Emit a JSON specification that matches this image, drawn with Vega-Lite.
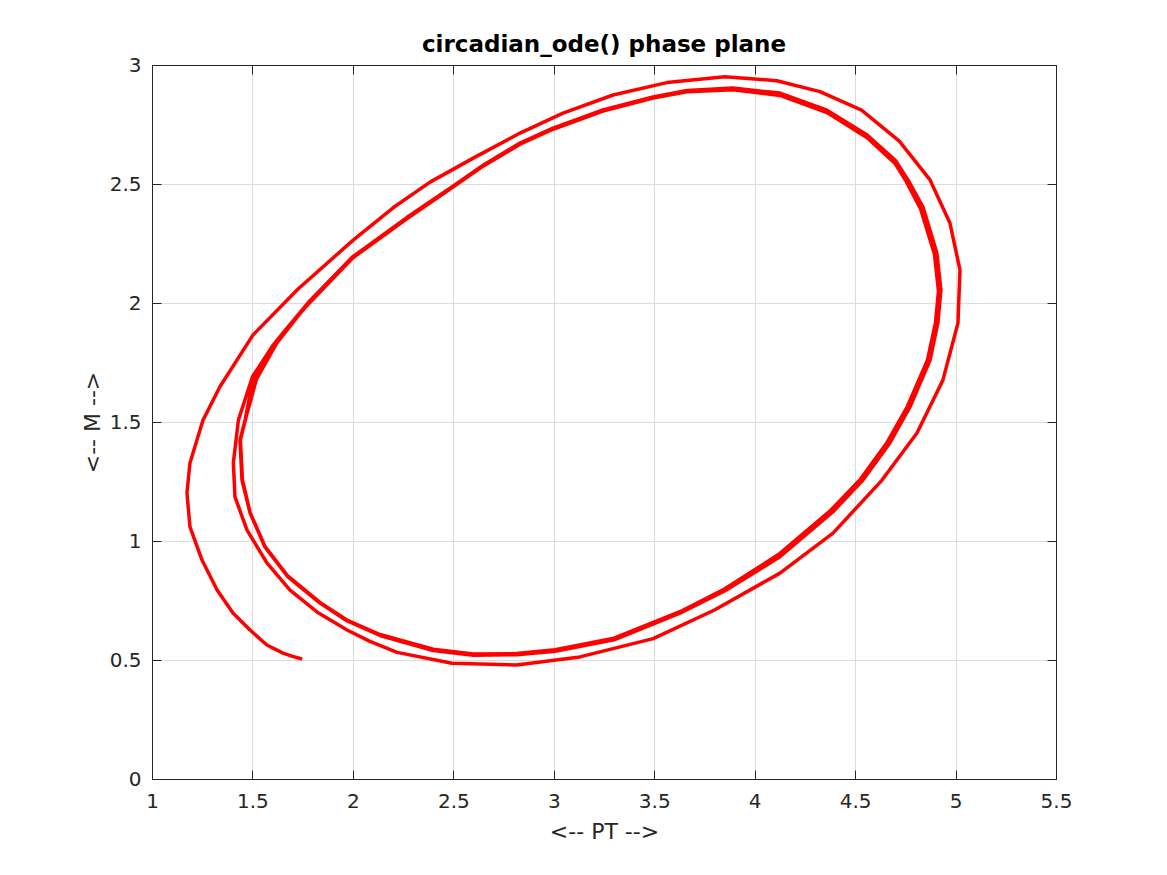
{
  "$schema": "https://vega.github.io/schema/vega-lite/v6.json",
  "autosize": "none",
  "width": 904,
  "height": 714,
  "padding": {"left": 152, "top": 65, "right": 111, "bottom": 96},
  "background": "white",
  "title": {"text": "circadian_ode() phase plane", "font": "DejaVu Sans", "fontSize": 23, "fontWeight": "bold", "color": "#000000", "offset": -20, "baseline": "alphabetic", "anchor": "middle"},
  "config": {
    "font": "DejaVu Sans",
    "view": {"stroke": "#262626", "strokeWidth": 1},
    "axis": {"domainColor": "#262626", "tickColor": "#262626", "labelColor": "#262626", "titleColor": "#262626", "labelFont": "DejaVu Sans", "titleFont": "DejaVu Sans", "labelFontSize": 20, "titleFontSize": 22, "titleFontWeight": "normal", "gridColor": "#dcdcdc", "gridWidth": 1, "tickSize": -9, "domainWidth": 1, "labelFlush": false, "labelOverlap": false}
  },
  "data": {"values": [
    {"t":1,"PT":1.747,"M":0.504},{"t":2,"PT":1.70,"M":0.515},{"t":3,"PT":1.652,"M":0.529},{"t":4,"PT":1.572,"M":0.563},{"t":5,"PT":1.488,"M":0.626},{"t":6,"PT":1.403,"M":0.697},{"t":7,"PT":1.324,"M":0.794},{"t":8,"PT":1.249,"M":0.92},{"t":9,"PT":1.189,"M":1.059},{"t":10,"PT":1.174,"M":1.202},{"t":11,"PT":1.189,"M":1.328},{"t":12,"PT":1.254,"M":1.508},{"t":13,"PT":1.338,"M":1.648},{"t":14,"PT":1.503,"M":1.866},{"t":15,"PT":1.727,"M":2.059},{"t":16,"PT":2.0,"M":2.263},{"t":17,"PT":2.2,"M":2.40},{"t":18,"PT":2.384,"M":2.508},{"t":19,"PT":2.608,"M":2.613},{"t":20,"PT":2.832,"M":2.714},{"t":21,"PT":3.046,"M":2.798},{"t":22,"PT":3.295,"M":2.874},{"t":23,"PT":3.563,"M":2.926},{"t":24,"PT":3.852,"M":2.951},{"t":25,"PT":4.11,"M":2.934},{"t":26,"PT":4.325,"M":2.888},{"t":27,"PT":4.532,"M":2.81},{"t":28,"PT":4.72,"M":2.68},{"t":29,"PT":4.873,"M":2.517},{"t":30,"PT":4.972,"M":2.336},{"t":31,"PT":5.022,"M":2.139},{"t":32,"PT":5.012,"M":1.916},{"t":33,"PT":4.937,"M":1.676},{"t":34,"PT":4.808,"M":1.454},{"t":35,"PT":4.634,"M":1.256},{"t":36,"PT":4.39,"M":1.033},{"t":37,"PT":4.126,"M":0.865},{"t":38,"PT":3.80,"M":0.71},{"t":39,"PT":3.495,"M":0.59},{"t":40,"PT":3.13,"M":0.513},{"t":41,"PT":2.815,"M":0.479},{"t":42,"PT":2.493,"M":0.486},{"t":43,"PT":2.22,"M":0.532},{"t":44,"PT":2.085,"M":0.578},{"t":45,"PT":1.971,"M":0.626},{"t":46,"PT":1.821,"M":0.702},{"t":47,"PT":1.687,"M":0.794},{"t":48,"PT":1.572,"M":0.908},{"t":49,"PT":1.473,"M":1.046},{"t":50,"PT":1.413,"M":1.185},{"t":51,"PT":1.405,"M":1.328},{"t":52,"PT":1.43,"M":1.508},
    {"t":53,"PT":1.50,"M":1.69},{"t":54,"PT":1.60,"M":1.82},{"t":55,"PT":1.672,"M":1.895},{"t":56,"PT":1.786,"M":2.01},{"t":57,"PT":2.0,"M":2.195},{"t":58,"PT":2.27,"M":2.36},{"t":59,"PT":2.5,"M":2.492},{"t":60,"PT":2.65,"M":2.58},{"t":61,"PT":2.832,"M":2.672},{"t":62,"PT":2.996,"M":2.735},{"t":63,"PT":3.245,"M":2.811},{"t":64,"PT":3.494,"M":2.866},{"t":65,"PT":3.663,"M":2.893},{"t":66,"PT":3.892,"M":2.903},{"t":67,"PT":4.126,"M":2.882},{"t":68,"PT":4.36,"M":2.81},{"t":69,"PT":4.56,"M":2.706},{"t":70,"PT":4.70,"M":2.60},{"t":71,"PT":4.763,"M":2.517},{"t":72,"PT":4.838,"M":2.403},{"t":73,"PT":4.907,"M":2.21},{"t":74,"PT":4.927,"M":2.055},{"t":75,"PT":4.912,"M":1.916},{"t":76,"PT":4.873,"M":1.76},{"t":77,"PT":4.773,"M":1.563},{"t":78,"PT":4.673,"M":1.412},{"t":79,"PT":4.539,"M":1.256},{"t":80,"PT":4.39,"M":1.123},{"t":81,"PT":4.126,"M":0.934},{"t":82,"PT":3.85,"M":0.79},{"t":83,"PT":3.628,"M":0.697},{"t":84,"PT":3.3,"M":0.585},{"t":85,"PT":3.006,"M":0.537},{"t":86,"PT":2.815,"M":0.522},{"t":87,"PT":2.6,"M":0.52},{"t":88,"PT":2.4,"M":0.54},{"t":89,"PT":2.135,"M":0.603},{"t":90,"PT":1.97,"M":0.665},{"t":91,"PT":1.836,"M":0.739},{"t":92,"PT":1.677,"M":0.849},{"t":93,"PT":1.562,"M":0.975},{"t":94,"PT":1.488,"M":1.118},{"t":95,"PT":1.448,"M":1.256},{"t":96,"PT":1.438,"M":1.424},{"t":97,"PT":1.463,"M":1.508},
    {"t":98,"PT":1.50,"M":1.665},{"t":99,"PT":1.60,"M":1.815},{"t":100,"PT":1.672,"M":1.89},{"t":101,"PT":1.786,"M":2.005},{"t":102,"PT":2.0,"M":2.19},{"t":103,"PT":2.27,"M":2.355},{"t":104,"PT":2.5,"M":2.488},{"t":105,"PT":2.65,"M":2.576},{"t":106,"PT":2.832,"M":2.667},{"t":107,"PT":2.996,"M":2.73},{"t":108,"PT":3.245,"M":2.806},{"t":109,"PT":3.494,"M":2.861},{"t":110,"PT":3.663,"M":2.888},{"t":111,"PT":3.892,"M":2.896},{"t":112,"PT":4.126,"M":2.872},{"t":113,"PT":4.36,"M":2.80},{"t":114,"PT":4.56,"M":2.694},{"t":115,"PT":4.70,"M":2.585},{"t":116,"PT":4.755,"M":2.51},{"t":117,"PT":4.826,"M":2.395},{"t":118,"PT":4.895,"M":2.205},{"t":119,"PT":4.915,"M":2.05},{"t":120,"PT":4.90,"M":1.916},{"t":121,"PT":4.86,"M":1.76},{"t":122,"PT":4.76,"M":1.565},{"t":123,"PT":4.66,"M":1.415},{"t":124,"PT":4.527,"M":1.26},{"t":125,"PT":4.38,"M":1.13},{"t":126,"PT":4.12,"M":0.944},{"t":127,"PT":3.85,"M":0.798},{"t":128,"PT":3.628,"M":0.703},{"t":129,"PT":3.3,"M":0.592},{"t":130,"PT":3.006,"M":0.543},{"t":131,"PT":2.815,"M":0.527},{"t":132,"PT":2.6,"M":0.525},{"t":133,"PT":2.4,"M":0.545},{"t":134,"PT":2.135,"M":0.607},{"t":135,"PT":1.97,"M":0.668},{"t":136,"PT":1.836,"M":0.742},{"t":137,"PT":1.677,"M":0.852},{"t":138,"PT":1.562,"M":0.978},{"t":139,"PT":1.488,"M":1.12},{"t":140,"PT":1.45,"M":1.258},{"t":141,"PT":1.44,"M":1.425},{"t":142,"PT":1.465,"M":1.51},{"t":143,"PT":1.52,"M":1.68},{"t":144,"PT":1.62,"M":1.83},{"t":145,"PT":1.75,"M":1.97},{"t":146,"PT":2.0,"M":2.19}
  ]},
  "layer": [
    {
      "mark": {"type": "line", "color": "#ff0000", "strokeWidth": 3.5, "strokeJoin": "round", "clip": true},
      "encoding": {
        "x": {"field": "PT", "type": "quantitative", "scale": {"domain": [1, 5.5], "nice": false, "zero": false},
          "axis": {"orient": "bottom", "title": "<-- PT -->", "values": [1,1.5,2,2.5,3,3.5,4,4.5,5,5.5], "format": "~g", "grid": true, "labelPadding": 21, "titlePadding": 10}},
        "y": {"field": "M", "type": "quantitative", "scale": {"domain": [0, 3], "nice": false, "zero": false},
          "axis": {"orient": "left", "title": "<-- M -->", "values": [0,0.5,1,1.5,2,2.5,3], "format": "~g", "grid": true, "labelPadding": 20, "titlePadding": 5}},
        "order": {"field": "t", "type": "quantitative"}
      }
    },
    {
      "mark": {"type": "line", "opacity": 0},
      "encoding": {
        "x": {"field": "PT", "type": "quantitative", "scale": {"domain": [1, 5.5], "nice": false, "zero": false},
          "axis": {"orient": "top", "title": null, "values": [1,1.5,2,2.5,3,3.5,4,4.5,5,5.5], "labels": false, "grid": false}},
        "y": {"field": "M", "type": "quantitative", "scale": {"domain": [0, 3], "nice": false, "zero": false},
          "axis": {"orient": "right", "title": null, "values": [0,0.5,1,1.5,2,2.5,3], "labels": false, "grid": false}},
        "order": {"field": "t", "type": "quantitative"}
      }
    }
  ],
  "resolve": {"axis": {"x": "independent", "y": "independent"}}
}
